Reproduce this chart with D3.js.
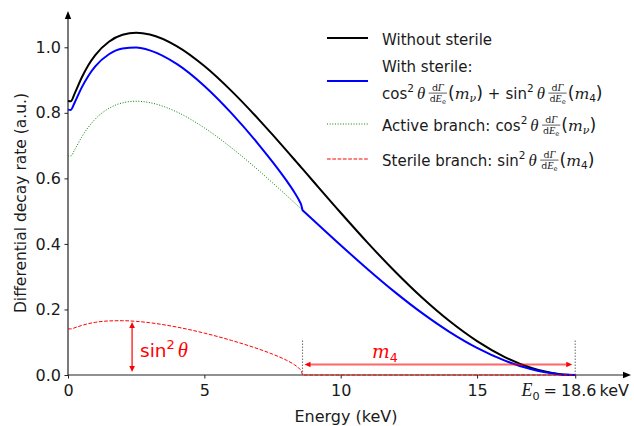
<!DOCTYPE html>
<html>
<head>
<meta charset="utf-8">
<script src="https://cdn.jsdelivr.net/npm/d3@7"></script>
<style>
    body { margin: 0; background: #fff; }
    svg { display: block; }
</style>
</head>
<body>
<svg id="chart" width="634" height="426"></svg>
<script>
var energy = [0, 0.1, 0.25, 0.5, 0.75, 1, 1.5, 2, 2.5, 3,
    4, 5, 6, 7, 7.5, 8, 8.3, 8.5, 8.55, 8.6,
    9, 10, 11, 12, 13, 14, 15, 16, 17, 17.5,
    18, 18.3, 18.6];

var withoutSterile = [0.836, 0.8354, 0.8603, 0.9071, 0.9459, 0.9763, 1.0171, 1.0381, 1.0442, 1.0389,
    1.0029, 0.9428, 0.8663, 0.7794, 0.7333, 0.6863, 0.6576, 0.6385, 0.6337, 0.6289,
    0.5905, 0.4951, 0.4025, 0.3151, 0.2349, 0.1638, 0.1034, 0.0556, 0.0216, 0.0104,
    0.0031, 0.0008, 0];

var withSterile = [0.8098, 0.8089, 0.8325, 0.8769, 0.9134, 0.9417, 0.9787, 0.9962, 0.9991, 0.9906,
    0.9484, 0.8820, 0.7984, 0.7025, 0.6503, 0.5945, 0.5576, 0.5287, 0.5196, 0.5031,
    0.4724, 0.3961, 0.3220, 0.2521, 0.1879, 0.1310, 0.0827, 0.0445, 0.0173, 0.0083,
    0.0025, 0.0006, 0];

var activeBranch = [0.6688, 0.6683, 0.6882, 0.7257, 0.7567, 0.7810, 0.8137, 0.8305, 0.8354, 0.8311,
    0.8023, 0.7542, 0.6930, 0.6235, 0.5866, 0.5490, 0.5261, 0.5108, 0.5070, 0.5031,
    0.4724, 0.3961, 0.3220, 0.2521, 0.1879, 0.1310, 0.0827, 0.0445, 0.0173, 0.0083,
    0.0025, 0.0006, 0];

var sterileBranch = [0.1410, 0.1406, 0.1443, 0.1512, 0.1567, 0.1607, 0.1650, 0.1657, 0.1637, 0.1595,
    0.1461, 0.1278, 0.1054, 0.0790, 0.0637, 0.0455, 0.0315, 0.0179, 0.0126, 0,
    0, 0, 0, 0, 0, 0, 0, 0, 0, 0,
    0, 0, 0];

var xTicks = [0, 5, 10, 15];
var yTicks = [0, 0.2, 0.4, 0.6, 0.8, 1.0];
var endpoint = 18.6;      // E0
var threshold = 8.6;      // E0 - m4
var sinArrowE = 2.35, sinArrowTop = 0.1645;
var m4ArrowY = 0.032, markerTop = 0.105;

var SANS = "DejaVu Sans", SERIF = "Liberation Serif", SERIF2 = "DejaVu Serif";

var svg = d3.select("#chart");
var x = d3.scaleLinear().domain([0, 20]).range([68, 613.4]);
var y = d3.scaleLinear().domain([0, 1]).range([375, 47.3]);

// axes
var xAxis = svg.append("g")
    .attr("transform", "translate(0," + y(0) + ")")
    .call(d3.axisBottom(x).tickValues(xTicks.concat([endpoint])).tickSize(3.5).tickPadding(6)
        .tickFormat(function (d) { return d === endpoint ? "" : d; }));
var yAxis = svg.append("g")
    .attr("transform", "translate(" + x(0) + ",0)")
    .call(d3.axisLeft(y).tickValues(yTicks).tickSize(3.5).tickPadding(3.5).tickFormat(d3.format(".1f")));
[xAxis, yAxis].forEach(function (a) {
    a.select(".domain").remove();
    a.selectAll("text").attr("font-family", SANS).attr("font-size", 16).attr("fill", "#1a1a1a");
    a.selectAll("line").attr("stroke", "#222");
});

svg.append("line").attr("x1", x(0)).attr("x2", 624).attr("y1", y(0)).attr("y2", y(0))
    .attr("stroke", "#222").attr("stroke-width", 1.2);
svg.append("line").attr("x1", x(0)).attr("x2", x(0)).attr("y1", y(0)).attr("y2", 18)
    .attr("stroke", "#222").attr("stroke-width", 1.2);
svg.append("path").attr("d", "M631,375 L623,371.8 L623,378.2 Z").attr("fill", "#000");
svg.append("path").attr("d", "M68,11 L64.8,19 L71.2,19 Z").attr("fill", "#000");

// small math typesetting helper
function piece(g, px, py, txt, font, size, italic, color) {
    var t = g.append("text").attr("x", px).attr("y", py)
        .attr("font-family", font).attr("font-size", size).attr("fill", color).text(txt);
    if (italic) t.attr("font-style", "italic");
    return t.node().getComputedTextLength();
}

function run(g, x0, y0, items, fs, color) {
    var cx = x0;
    items.forEach(function (it) {
        if (it.gap) { cx += it.gap; return; }
        if (it.frac) {
            var fsz = fs * 0.62, axis = y0 - fs * 0.36;
            var top = g.append("g"), bot = g.append("g");
            var wn = run(top, 0, axis - 2.6, it.frac[0], fsz, color);
            var wd = run(bot, 0, axis + fsz * 0.92, it.frac[1], fsz, color);
            var w = Math.max(wn, wd) + 2;
            top.attr("transform", "translate(" + (cx + 0.5 + (w - wn) / 2) + ",0)");
            bot.attr("transform", "translate(" + (cx + 0.5 + (w - wd) / 2) + ",0)");
            g.append("line").attr("x1", cx + 0.5).attr("x2", cx + 0.5 + w).attr("y1", axis).attr("y2", axis)
                .attr("stroke", color).attr("stroke-width", 0.7);
            cx += w + 1.5;
            return;
        }
        var size = fs, dy = 0, font = SANS;
        if (it.sup) { size = fs * 0.7; dy = -fs * 0.42; }
        if (it.sub) { size = fs * 0.7; dy = fs * 0.22; }
        if (it.p) size = fs * 1.15;
        if (it.m) { font = SERIF; size *= 1.12; }
        if (it.w) { font = SERIF2; size *= 1.04; }
        cx += piece(g, cx, y0 + dy, it.t, font, size, !!(it.m || it.w), color);
    });
    return cx - x0;
}

var dGdE = {frac: [[{t: "d"}, {t: "Γ", m: 1}], [{t: "d"}, {t: "E", m: 1}, {t: "e", sub: 1}]]};
var cosT = [{t: "cos"}, {t: "2", sup: 1}, {gap: 3}, {t: "θ", m: 1}, {gap: 3}, dGdE,
    {t: "(", p: 1}, {t: "m", w: 1}, {t: "ν", sub: 1, w: 1}, {t: ")", p: 1}];
var sinT = [{t: "sin"}, {t: "2", sup: 1}, {gap: 3}, {t: "θ", m: 1}, {gap: 3}, dGdE,
    {t: "(", p: 1}, {t: "m", w: 1}, {t: "4", sub: 1}, {t: ")", p: 1}];

// E0 tick label
var e0 = svg.append("g");
var e0w = run(e0, 0, 396, [{t: "E", m: 1}, {t: "0", sub: 1}, {gap: 4}, {t: "="}, {gap: 4},
    {t: "18.6"}, {gap: 3}, {t: "keV"}], 16, "#1a1a1a");
e0.attr("transform", "translate(" + (x(endpoint) - e0w / 2) + ",0)");

// axis titles
svg.append("text").attr("x", 346).attr("y", 422).attr("text-anchor", "middle")
    .attr("font-family", SANS).attr("font-size", 16).attr("fill", "#1a1a1a").text("Energy (keV)");
svg.append("text").attr("transform", "translate(26,203) rotate(-90)").attr("text-anchor", "middle")
    .attr("font-family", SANS).attr("font-size", 15.5).attr("fill", "#1a1a1a")
    .text("Differential decay rate (a.u.)");

// markers at threshold and endpoint
[threshold, endpoint].forEach(function (e) {
    svg.append("line").attr("x1", x(e)).attr("x2", x(e)).attr("y1", y(0)).attr("y2", y(markerTop))
        .attr("stroke", "#777").attr("stroke-width", 1.1).attr("stroke-dasharray", "1.5,1.5");
});

// curves; the sterile-affected curves get a real corner at the threshold
var kink = energy.indexOf(threshold);
function lineOf(vals, split) {
    var gen = d3.line().x(function (i) { return x(energy[i]); }).y(function (i) { return y(vals[i]); })
        .curve(d3.curveMonotoneX);
    var all = d3.range(energy.length);
    if (!split) return gen(all);
    return gen(all.slice(0, kink + 1)) + gen(all.slice(kink)).replace(/^M/, "L");
}
svg.append("path").attr("d", lineOf(withoutSterile)).attr("fill", "none").attr("stroke", "#000").attr("stroke-width", 2);
svg.append("path").attr("d", lineOf(activeBranch)).attr("fill", "none").attr("stroke", "#008000")
    .attr("stroke-width", 1).attr("stroke-dasharray", "1,1.65");
svg.append("path").attr("d", lineOf(withSterile, true)).attr("fill", "none").attr("stroke", "#0000ff").attr("stroke-width", 2);
svg.append("path").attr("d", lineOf(sterileBranch, true)).attr("fill", "none").attr("stroke", "#ff0000")
    .attr("stroke-width", 1).attr("stroke-dasharray", "3.7,1.6");

// annotations
function head(px, py, dx, dy, color) {
    // arrow head pointing along (dx, dy)
    var L = 6, W = 2.8, bx = px - dx * L, by = py - dy * L;
    svg.append("path").attr("d", "M" + px + "," + py + " L" + (bx - dy * W) + "," + (by + dx * W) +
        " L" + (bx + dy * W) + "," + (by - dx * W) + " Z").attr("fill", color);
}
var ax = x(sinArrowE), ay0 = y(0) - 3, ay1 = y(sinArrowTop) + 1;
svg.append("line").attr("x1", ax).attr("x2", ax).attr("y1", ay0 - 4).attr("y2", ay1 + 4)
    .attr("stroke", "#ff0000").attr("stroke-width", 1.2);
head(ax, ay0, 0, 1, "#ff0000");
head(ax, ay1, 0, -1, "#ff0000");
var sl = svg.append("g");
run(sl, 140, 356.5, [{t: "sin"}, {t: "2", sup: 1}, {gap: 3}, {t: "θ", m: 1}], 18.5, "#ff0000");

var my = y(m4ArrowY), mx0 = x(threshold) + 2, mx1 = x(endpoint) - 3;
svg.append("line").attr("x1", mx0 + 4).attr("x2", mx1 - 4).attr("y1", my).attr("y2", my)
    .attr("stroke", "#ff0000").attr("stroke-opacity", 0.6).attr("stroke-width", 2);
head(mx0, my, -1, 0, "#ff0000");
head(mx1, my, 1, 0, "#ff0000");
var ml = svg.append("g");
var mw = run(ml, 0, 358, [{t: "m", w: 1}, {t: "4", sub: 1}], 18, "#ff0000");
ml.attr("transform", "translate(" + (385 - mw / 2) + ",0)");

// legend
var lg = svg.append("g");
function sample(yy, color, w, dash) {
    var l = lg.append("line").attr("x1", 327).attr("x2", 368).attr("y1", yy).attr("y2", yy)
        .attr("stroke", color).attr("stroke-width", w);
    if (dash) l.attr("stroke-dasharray", dash);
}
sample(38, "#000", 2);
sample(81, "#0000ff", 2);
sample(124, "#008000", 1, "1,1.65");
sample(159, "#ff0000", 1, "3.7,1.6");
var FS = 15;
run(lg, 382, 44.5, [{t: "Without sterile"}], FS, "#1a1a1a");
run(lg, 382, 71.5, [{t: "With sterile:"}], FS, "#1a1a1a");
run(lg, 382, 98.5, cosT.concat([{gap: 5}, {t: "+"}, {gap: 5}], sinT), FS, "#1a1a1a");
run(lg, 382, 130.5, [{t: "Active branch:"}, {gap: 5}].concat(cosT), FS, "#1a1a1a");
run(lg, 382, 165.5, [{t: "Sterile branch:"}, {gap: 5}].concat(sinT), FS, "#1a1a1a");
</script>
</body>
</html>
